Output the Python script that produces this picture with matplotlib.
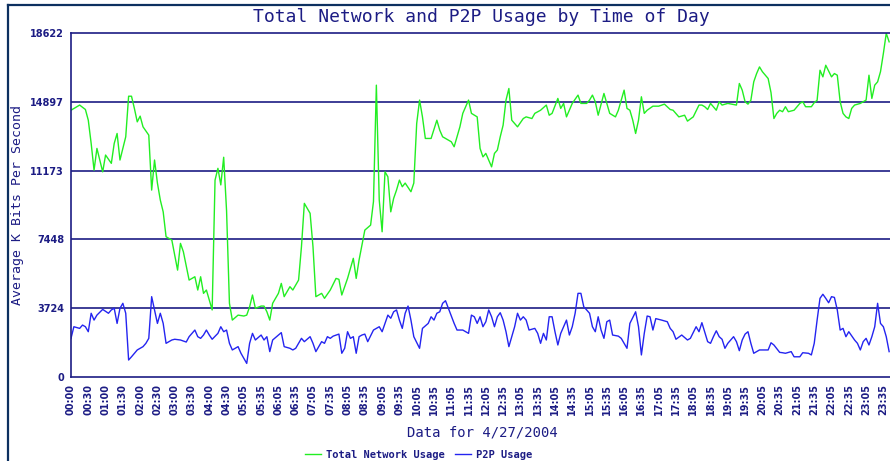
import matplotlib
matplotlib.use("Agg")
import matplotlib.pyplot as plt
from matplotlib.lines import Line2D

# 5-minute samples (index) and average kbit/s
total_idx = [0, 3, 5, 6, 7, 8, 9, 11, 12, 14, 15, 16, 17, 19, 20, 21, 22, 23, 24, 25, 27, 28, 29, 30, 31, 32, 33, 35,
             37, 38, 39, 41, 43, 44, 45, 46, 47, 49, 50, 51, 52, 53, 54, 55, 56, 58, 60, 61, 62, 63, 64, 66, 67, 68,
             69, 70, 72, 73, 74, 76, 77, 79, 80, 81, 83, 84, 85, 87, 88, 90, 92, 93, 94, 96, 98, 99, 100, 102, 104,
             105, 106, 107, 108, 109, 110, 111, 112, 113, 114, 115, 116, 118, 119, 120, 121, 122, 123, 125, 127, 128,
             129, 131, 132, 133, 135, 136, 138, 139, 141, 142, 143, 144, 146, 147, 148, 149, 150, 151, 152, 153, 155,
             157, 158, 160, 161, 163, 165, 166, 167, 169, 170, 171, 172, 173, 174, 176, 177, 179, 180, 181, 182, 183,
             185, 187, 189, 190, 192, 193, 194, 195, 196, 197, 198, 199, 200, 202, 204, 206, 208, 209, 211, 213, 214,
             216, 218, 219, 220, 221, 222, 224, 225, 226, 228, 231, 232, 233, 234, 235, 236, 237, 238, 239, 240, 242,
             243, 244, 245, 246, 247, 248, 249, 251, 253, 254, 255, 257, 258, 259, 260, 261, 262, 264, 265, 266, 267,
             268, 269, 270, 271, 272, 274, 276, 277, 278, 279, 280, 281, 282, 283, 284]
total_kbps = [14450, 14730, 14490, 13910, 12650, 11200, 12380, 11110, 12020, 11570, 12650, 13190, 11750, 13010, 15210,
              15210, 14550, 13820, 14130, 13550, 13100, 10120, 11750, 10500, 9580, 8940, 7590, 7410, 5780, 7230, 6780,
              5240, 5420, 4700, 5420, 4520, 4700, 3620, 10660, 11300, 10400, 11900, 9000, 3980, 3070, 3340, 3290, 3340,
              3790, 4430, 3710, 3830, 3830, 3520, 3070, 3980, 4520, 5060, 4340, 4880, 4700, 5240, 7050, 9400, 8860,
              7050, 4340, 4520, 4250, 4700, 5330, 5280, 4430, 5330, 6420, 5330, 6330, 7950, 8220, 9500, 15810, 9580,
              7860, 11110, 10840, 8940, 9670, 10120, 10660, 10300, 10500, 10030, 10500, 13730, 15000, 14090, 12920,
              12920, 13910, 13370, 13010, 12830, 12740, 12470, 13550, 14280, 15000, 14280, 14090, 12380, 11920, 12110,
              11380, 12110, 12290, 13010, 13640, 15000, 15630, 13910, 13550, 14000, 14090, 14000, 14280, 14450, 14730,
              14180, 14280, 15090, 14550, 14820, 14090, 14450, 14820, 15270, 14820, 14820, 15000, 15270, 14910, 14180,
              15360, 14280, 14090, 14450, 15540, 14550, 14450, 13910, 13190, 13910, 15180, 14280, 14450, 14670, 14670,
              14780, 14490, 14450, 14090, 14180, 13860, 14090, 14730, 14730, 14640, 14490, 14820, 14450, 14910, 14730,
              14820, 14730, 15900, 15540, 14910, 14780, 14990, 15990, 16440, 16800, 16540, 16170, 15400, 14000, 14280,
              14450, 14370, 14640, 14370, 14450, 14820, 14910, 14640, 14640, 14860, 14990, 16620, 16260, 16890, 16260,
              16440, 16350, 14910, 14280, 14090, 14000, 14550, 14730, 14820, 15000, 16350, 15090, 15810, 15990, 16540,
              17530, 18620, 18160]

p2p_idx = [0, 1, 3, 4, 5, 6, 7, 8, 9, 11, 13, 14, 15, 16, 17, 18, 19, 20, 21, 23, 25, 26, 27, 28, 29, 30, 31, 32, 33,
           35, 36, 38, 40, 41, 43, 44, 45, 46, 47, 48, 49, 51, 52, 53, 54, 55, 56, 58, 59, 61, 62, 63, 64, 66, 67, 68,
           69, 70, 72, 73, 74, 76, 77, 78, 79, 80, 81, 83, 84, 85, 87, 88, 89, 90, 91, 93, 94, 95, 96, 97, 98, 99, 100,
           101, 102, 103, 105, 106, 107, 108, 109, 110, 111, 112, 113, 114, 115, 116, 117, 118, 119, 121, 122, 124,
           125, 126, 127, 128, 129, 130, 131, 133, 134, 136, 137, 138, 139, 140, 141, 142, 143, 144, 145, 146, 147,
           148, 149, 150, 151, 152, 153, 154, 155, 156, 157, 158, 159, 161, 162, 163, 164, 165, 166, 167, 168, 169,
           170, 171, 172, 173, 174, 175, 176, 177, 178, 179, 180, 181, 182, 183, 184, 185, 186, 187, 188, 190, 191,
           193, 194, 196, 197, 198, 199, 200, 201, 202, 203, 205, 207, 208, 209, 210, 212, 214, 215, 217, 218, 219,
           221, 222, 223, 224, 225, 226, 227, 228, 230, 231, 232, 233, 234, 235, 236, 237, 239, 242, 243, 244, 246,
           247, 248, 250, 251, 253, 254, 256, 257, 258, 259, 260, 261, 262, 263, 264, 265, 266, 267, 268, 269, 270,
           272, 273, 274, 275, 276, 277, 278, 279, 280, 281, 282, 283, 284]
p2p_kbps = [2080, 2710, 2620, 2800, 2710, 2440, 3440, 3070, 3340, 3650, 3440, 3620, 3710, 2890, 3710, 3980, 3440, 905,
            1080, 1450, 1630, 1810, 2080, 4340, 3620, 2890, 3440, 2890, 1810, 1990, 2030, 1990, 1880, 2170, 2530, 2170,
            2080, 2260, 2530, 2260, 2030, 2350, 2710, 2440, 2530, 1810, 1450, 1630, 1270, 720, 1810, 2350, 1990, 2260,
            1990, 2170, 1360, 1990, 2260, 2390, 1630, 1540, 1450, 1540, 1810, 2080, 1900, 2170, 1810, 1360, 1900, 1810,
            2170, 2080, 2200, 2310, 1270, 1540, 2440, 2080, 2170, 1270, 2170, 2260, 2310, 1900, 2530, 2620, 2710, 2440,
            2890, 3340, 3170, 3520, 3620, 3070, 2620, 3440, 3830, 3070, 2170, 1540, 2620, 2890, 3250, 3070, 3440, 3520,
            3980, 4120, 3710, 2890, 2530, 2530, 2440, 2350, 3340, 3250, 2890, 3250, 2710, 2980, 3620, 3250, 2710, 3250,
            3470, 3070, 2440, 1630, 2170, 2710, 3440, 3070, 3250, 3070, 2530, 2620, 2350, 1810, 2350, 1990, 3250, 3250,
            2440, 1720, 2350, 2710, 3070, 2260, 2710, 3440, 4520, 4520, 3790, 3620, 3440, 2710, 2440, 3250, 2530, 2080,
            2980, 3070, 2260, 2200, 2080, 1540, 2890, 3520, 2710, 1180, 2350, 3290, 3250, 2530, 3150, 3070, 2980, 2620,
            2440, 2030, 2260, 1990, 2080, 2710, 2440, 2930, 1900, 1810, 2170, 2490, 2170, 2030, 1540, 1810, 2170, 1900,
            1410, 1990, 2310, 2440, 1810, 1270, 1450, 1450, 1840, 1720, 1320, 1300, 1270, 1360, 1080, 1080, 1300, 1270,
            1180, 1810, 3070, 4250, 4470, 4250, 4010, 4340, 4300, 3620, 2530, 2620, 2170, 2440, 1990, 1810, 1450, 1900,
            2080, 1720, 2170, 2710, 3980, 2890, 2710, 2170, 1360]

time_labels = ["00:00", "00:30", "01:00", "01:30", "02:00", "02:30", "03:00", "03:30", "04:00", "04:30",
               "05:05", "05:35", "06:05", "06:35", "07:05", "07:35", "08:05", "08:35", "09:05", "09:35",
               "10:05", "10:35", "11:05", "11:35", "12:05", "12:35", "13:05", "13:35", "14:05", "14:35",
               "15:05", "15:35", "16:05", "16:35", "17:05", "17:35", "18:05", "18:35", "19:05", "19:35",
               "20:05", "20:35", "21:05", "21:35", "22:05", "22:35", "23:05", "23:35"]
y_ticks = [0, 3724, 7448, 11173, 14897, 18622]

navy = "#1c1c84"
mono = "DejaVu Sans Mono"

fig = plt.figure(figsize=(8.9, 4.61), dpi=100)
ax = fig.add_axes([71 / 890, 84.3 / 461, (890 - 71) / 890, 343.4 / 461])

ax.plot(total_idx, total_kbps, color="#22ee22", lw=1.0, label="Total Network Usage")
ax.plot(p2p_idx, p2p_kbps, color="#2424f0", lw=1.0, label="P2P Usage")

ax.set_xlim(0, 284.3)
ax.set_ylim(0, 18622)
ax.set_yticks(y_ticks)
ax.set_yticklabels([str(v) for v in y_ticks], fontsize=7, fontweight="bold", color=navy)
ax.set_xticks(range(0, 6 * len(time_labels), 6))
ax.set_xticklabels(time_labels, fontsize=7, fontweight="bold", color=navy)
ax.tick_params(length=0, pad=5)
ax.tick_params(axis="x", labelrotation=90)

for v in y_ticks[1:-1]:
    ax.axhline(v, color=navy, lw=1.2, zorder=0)
for side in ["left", "bottom", "top"]:
    ax.spines[side].set_color(navy)
    ax.spines[side].set_linewidth(1.2)
ax.spines["right"].set_visible(False)

ax.set_ylabel("Average K Bits Per Second", fontsize=9.5, family=mono, color=navy)
ax.yaxis.set_label_coords(-0.057, 0.5)

fig.text(0.541, 0.963, "Total Network and P2P Usage by Time of Day", ha="center", va="center",
         fontsize=13, family=mono, color=navy)
fig.text(0.542, 0.061, "Data for 4/27/2004", ha="center", va="center", fontsize=10, family=mono, color=navy)

fig.legend(loc="center", bbox_to_anchor=(0.47, 0.013), ncol=2, frameon=False,
           prop={"family": mono, "weight": "bold", "size": 7.5}, labelcolor=navy,
           handlelength=1.6, handletextpad=0.4, columnspacing=1.0)

# outer frame (left and top edges visible)
fig.add_artist(Line2D([8 / 890, 8 / 890], [0, 1 - 5 / 461], color="#0d3060", lw=1.6))
fig.add_artist(Line2D([8 / 890, 1], [1 - 5 / 461, 1 - 5 / 461], color="#0d3060", lw=1.6))

fig.savefig("out.png", dpi=100, facecolor="white")
